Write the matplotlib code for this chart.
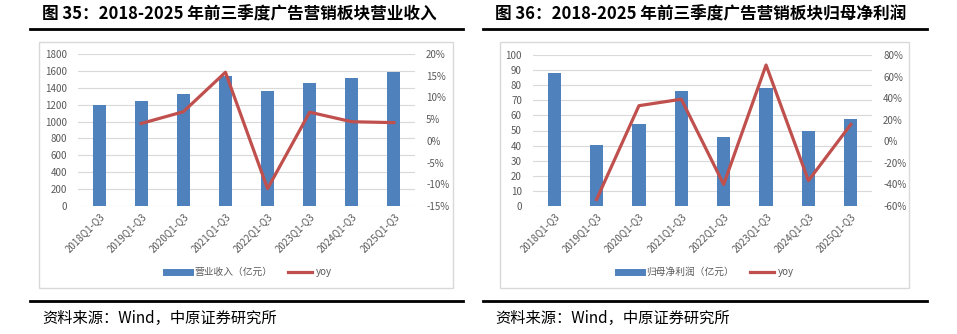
import matplotlib.pyplot as plt
from matplotlib.lines import Line2D
from matplotlib.patches import Rectangle
from matplotlib.ticker import MultipleLocator, FuncFormatter

plt.rcParams['font.family'] = ['Noto Sans CJK SC', 'DejaVu Sans']

W, H = 957, 334

periods = ['2018Q1-Q3', '2019Q1-Q3', '2020Q1-Q3', '2021Q1-Q3',
           '2022Q1-Q3', '2023Q1-Q3', '2024Q1-Q3', '2025Q1-Q3']

revenue = [1195, 1238, 1325, 1539, 1365, 1456, 1515, 1582]
revenue_yoy = [None, 0.040, 0.067, 0.158, -0.110, 0.066, 0.044, 0.042]

profit = [87.8, 40.7, 54.6, 75.9, 45.6, 78.1, 49.8, 57.3]
profit_yoy = [None, -0.54, 0.33, 0.39, -0.40, 0.707, -0.365, 0.156]

titles = ['图 35：2018-2025 年前三季度广告营销板块营业收入',
          '图 36：2018-2025 年前三季度广告营销板块归母净利润']
bar_labels = ['营业收入（亿元）', '归母净利润（亿元）']
source = '资料来源：Wind，中原证券研究所'

BLUE = '#4f81bd'
RED = '#c0504d'
GRAY = '#595959'
GRID = '#d9d9d9'


def px_rect(x0, y0, x1, y1):
    # pixel box (top-left origin) -> figure fraction rect
    return [x0 / W, 1 - y1 / H, (x1 - x0) / W, (y1 - y0) / H]


fig = plt.figure(figsize=(W / 100, H / 100), dpi=100)


def panel(plot_box, frame_box, title_x, rule, vals, yoy, ylim, ystep,
          rlim, rstep, label, title, legend_xy):
    # outer light frame
    fx0, fy0, fx1, fy1 = frame_box
    fig.patches.append(Rectangle((fx0 / W, 1 - fy1 / H), (fx1 - fx0) / W,
                                 (fy1 - fy0) / H, transform=fig.transFigure,
                                 fill=False, edgecolor=GRID, lw=1))
    # title + rules
    fig.text(title_x / W, 1 - 15 / H, title, fontsize=12, fontweight='bold',
             va='center', ha='left', color='black')
    rx0, rx1 = rule
    fig.add_artist(Line2D([rx0 / W, rx1 / W], [1 - 28.5 / H] * 2, color='black', lw=2))
    fig.add_artist(Line2D([rx0 / W, rx1 / W], [1 - 301 / H] * 2, color='black', lw=2))
    fig.text((title_x) / W, 1 - 318 / H, source, fontsize=11, va='center',
             ha='left', color='black')

    ax = fig.add_axes(px_rect(*plot_box))
    x = list(range(len(periods)))
    ax.bar(x, vals, width=0.31, color=BLUE, zorder=3)
    ax.set_xlim(-0.5, len(periods) - 0.5)
    ax.set_ylim(*ylim)
    ax.yaxis.set_major_locator(MultipleLocator(ystep))
    ax.grid(axis='y', color=GRID, lw=0.8, zorder=0)
    for s in ax.spines.values():
        s.set_visible(False)
    ax.set_xticks(x)
    ax.set_xticklabels(periods, rotation=45, ha='right', rotation_mode='anchor')
    ax.tick_params(axis='both', length=0, labelsize=7, labelcolor=GRAY)
    ax.tick_params(axis='x', pad=4)
    ax.tick_params(axis='y', pad=8)

    ax2 = ax.twinx()
    xs = [i for i, v in zip(x, yoy) if v is not None]
    ys = [v for v in yoy if v is not None]
    ax2.plot(xs, ys, color=RED, lw=2.3, zorder=4)
    ax2.set_ylim(*rlim)
    ax2.yaxis.set_major_locator(MultipleLocator(rstep))
    ax2.yaxis.set_major_formatter(FuncFormatter(lambda v, p: f'{v * 100:.0f}%'))
    for s in ax2.spines.values():
        s.set_visible(False)
    ax2.tick_params(axis='y', length=0, labelsize=7, labelcolor=GRAY, pad=8)

    handles = [Line2D([], [], color=BLUE, lw=5), Line2D([], [], color=RED, lw=2.3)]
    ax.legend(handles, [label, 'yoy'], loc='center', ncol=2, frameon=False,
              bbox_to_anchor=(legend_xy[0] / W, 1 - legend_xy[1] / H),
              bbox_transform=fig.transFigure, fontsize=7, labelcolor=GRAY,
              handlelength=2.5, columnspacing=1.6, handletextpad=0.4)


panel((78, 54, 415, 206), (39, 42, 453, 288), 42, (30, 463),
      revenue, revenue_yoy, (0, 1800), 200, (-0.15, 0.20), 0.05,
      bar_labels[0], titles[0], (249, 272))
panel((533, 55, 872, 206), (500, 42, 909, 288), 495, (483, 927),
      profit, profit_yoy, (0, 100), 10, (-0.60, 0.80), 0.20,
      bar_labels[1], titles[1], (706, 272))

fig.savefig('out.png', dpi=100)
